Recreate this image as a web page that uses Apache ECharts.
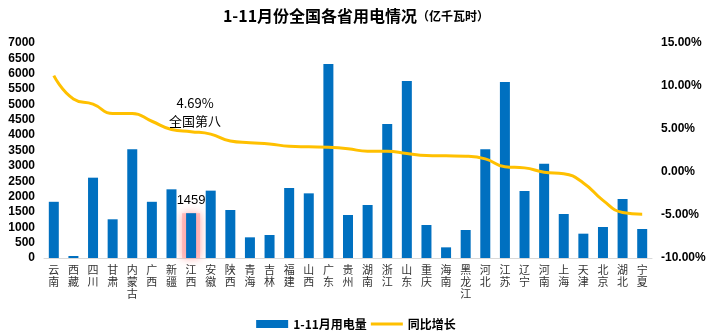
<!DOCTYPE html>
<html><head><meta charset="utf-8">
<script src="https://cdn.jsdelivr.net/npm/echarts@6/dist/echarts.min.js"></script>
<style>html,body{margin:0;padding:0;background:#fff}#c{width:712px;height:335px}</style>
</head><body><div id="c"></div>
<script>
const provinces = ['云南','西藏','四川','甘肃','内蒙古','广西','新疆','江西','安徽','陕西','青海','吉林','福建','山西','广东','贵州','湖南','浙江','山东','重庆','海南','黑龙江','河北','江苏','辽宁','河南','上海','天津','北京','湖北','宁夏'];
const usage = [1830,65,2615,1260,3540,1830,2236,1459,2193,1563,673,749,2279,2105,6316,1400,1726,4363,5763,1074,347,912,3540,5730,2181,3071,1433,792,1009,1921,944];
const growth = [11.2,8.5,7.9,6.8,6.8,5.9,4.95,4.69,4.4,3.6,3.4,3.25,3.0,2.93,2.87,2.7,2.42,2.42,2.15,1.92,1.88,1.84,1.53,0.6,0.48,-0.03,-0.2,-1.27,-3.3,-4.7,-4.9];
const leftTicks = {min:0, max:7000, interval:500};
const rightTicks = {min:-10, max:15, interval:5};
const highlight = '江西';
const annoText = ['4.69%','全国第八'];

const chart = echarts.init(document.getElementById('c'));
const hi = provinces.indexOf(highlight);
const glowData = usage.map((v,i)=> i===hi ? v : '-');
const barData = usage.map((v,i)=> i===hi ? {value:v, label:{show:true, position:'top', color:'#000', fontSize:13, fontFamily:'Liberation Sans', offset:[0,-1]}} : v);
const lineData = growth.map((v,i)=> i===hi ? {value:v, label:{show:true, position:'top', formatter: annoText.join('\n'), color:'#000', fontSize:13, lineHeight:18, fontFamily:'Noto Sans CJK SC', offset:[4,3]}} : v);
chart.setOption({
  animation:false,
  title:{text:'1-11月份全国各省用电情况{s|（亿千瓦时）}', left:'center', top:3,
    textStyle:{fontSize:16, fontWeight:'bold', color:'#000', fontFamily:'Noto Sans CJK SC',
      rich:{s:{fontSize:12, fontWeight:'bold', color:'#000', fontFamily:'Noto Sans CJK SC'}}}},
  legend:{bottom:0, left:'center', itemGap:4, itemWidth:32, itemHeight:8,
    textStyle:{fontSize:12, fontWeight:'bold', color:'#000', fontFamily:'Noto Sans CJK SC'},
    data:[{name:'1-11月用电量', icon:'rect'},{name:'同比增长', icon:'path://M0 0H30V3H0Z', itemStyle:{color:'#FFC000'}}]},
  grid:{left:44, right:60, top:43, bottom:77},
  xAxis:[{type:'category', data:provinces,
    axisLine:{lineStyle:{color:'#d9d9d9'}}, axisTick:{show:false},
    axisLabel:{interval:0, formatter:v=>v.split('').join('\n'), fontSize:11, lineHeight:12, color:'#333', fontFamily:'Noto Sans CJK SC', margin:6}},
    {type:'category', data:provinces, show:false, position:'bottom'}],
  yAxis:[
    {type:'value', min:leftTicks.min, max:leftTicks.max, interval:leftTicks.interval, splitLine:{show:false},
      axisLabel:{fontSize:12, fontWeight:'bold', color:'#000', fontFamily:'Liberation Sans', margin:9, formatter:v=>String(v)}},
    {type:'value', min:rightTicks.min, max:rightTicks.max, interval:rightTicks.interval, splitLine:{show:false}, alignTicks:false,
      axisLabel:{fontSize:12, fontWeight:'bold', color:'#000', fontFamily:'Liberation Sans', margin:9, formatter:v=>v.toFixed(2)+'%'}}
  ],
  series:[
    {name:'glow', type:'bar', xAxisIndex:1, data:glowData, barWidth:18, z:1, silent:true,
      itemStyle:{color:'rgba(255,170,170,0.7)', shadowBlur:8, shadowColor:'rgba(255,120,120,0.9)'}},
    {name:'1-11月用电量', type:'bar', data:barData, barWidth:10, z:3, itemStyle:{color:'#0070C0'}},
    {name:'同比增长', type:'line', yAxisIndex:1, data:lineData, smooth:0.5, symbol:'circle', symbolSize:0, showSymbol:true, z:4, lineStyle:{color:'#FFC000', width:3}, itemStyle:{color:'#FFC000'}}
  ]
});
</script></body></html>
